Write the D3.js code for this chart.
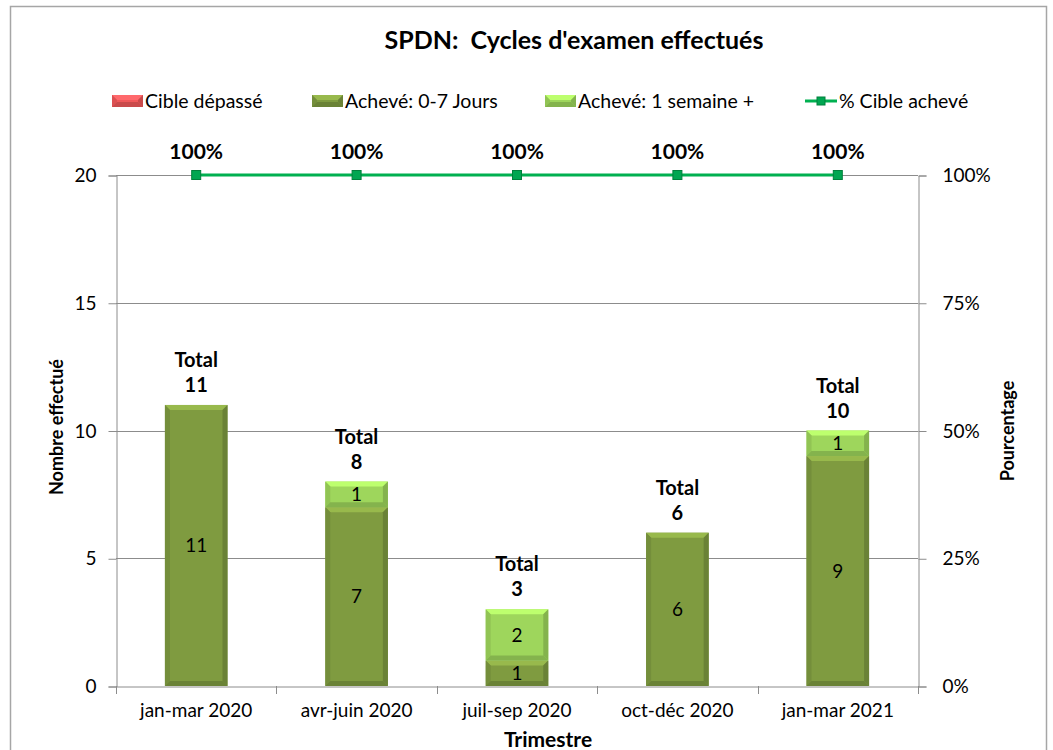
<!DOCTYPE html>
<html>
<head>
<meta charset="utf-8">
<script src="https://cdn.jsdelivr.net/npm/d3@7"></script>
<style>
body{margin:0;background:#fff;}
text{font-family:Lato,'Open Sans',sans-serif;}
</style>
</head>
<body>
<script>
// données du graphique
var categories=['jan-mar 2020','avr-juin 2020','juil-sep 2020','oct-déc 2020','jan-mar 2021'];
var cibleDepasse=[0,0,0,0,0];
var acheve07=[11,7,1,6,9];
var acheveSemaine=[0,1,2,0,1];
var pctAcheve=[1,1,1,1,1];
var leftTicks=[0,5,10,15,20];
var rightTicks=[0,0.25,0.5,0.75,1];

var W=1053,H=750;
var margin={left:116,right:135,top:175,bottom:64};
var fs=19; // taille du texte normal
var svg=d3.select('body').append('svg').attr('width',W).attr('height',H);

svg.append('rect')
    .attr('x',10.5).attr('y',6.5).attr('width',1036).attr('height',800)
    .attr('fill','#fff').attr('stroke','#a6a6a6').attr('stroke-width',1.5);

var x=d3.scaleBand().domain(categories).range([margin.left,W-margin.right]).paddingInner(0.61).paddingOuter(0.305);
var xTick=d3.scaleBand().domain(categories).range([margin.left,W-margin.right]);
var y=d3.scaleLinear().domain([0,20]).range([H-margin.bottom,margin.top]);
var y2=d3.scaleLinear().domain([0,1]).range([H-margin.bottom,margin.top]);

// grille
svg.append('g').selectAll('line').data(leftTicks.slice(1)).enter().append('line')
    .attr('x1',margin.left).attr('x2',W-margin.right)
    .attr('y1',function(d){return Math.round(y(d))+0.5;}).attr('y2',function(d){return Math.round(y(d))+0.5;})
    .attr('stroke','#8c8c8c').attr('stroke-width',1);

// axes
var axL=svg.append('g').attr('transform','translate('+(margin.left+0.5)+',0.5)')
    .call(d3.axisLeft(y).tickValues(leftTicks).tickSize(8).tickPadding(12));
var axR=svg.append('g').attr('transform','translate('+(W-margin.right+0.5)+',0.5)')
    .call(d3.axisRight(y2).tickValues(rightTicks).tickSize(8).tickPadding(16).tickFormat(d3.format('.0%')));
var axB=svg.append('g').attr('transform','translate(0,'+(H-margin.bottom+0.5)+')')
    .call(d3.axisBottom(xTick).tickSize(0).tickPadding(17));
// ticks entre catégories
svg.append('g').selectAll('line').data(d3.range(categories.length+1)).enter().append('line')
    .attr('x1',function(i){return Math.round(margin.left+i*xTick.step())+0.5;})
    .attr('x2',function(i){return Math.round(margin.left+i*xTick.step())+0.5;})
    .attr('y1',H-margin.bottom).attr('y2',H-margin.bottom+8)
    .attr('stroke','#8c8c8c');
[axL,axR,axB].forEach(function(a){
    a.selectAll('path,line').attr('stroke','#8c8c8c');
    a.selectAll('text').attr('font-size',fs).attr('fill','#000').attr('font-family','Lato,sans-serif');
});

// barres avec effet biseauté
function bevelBar(g,x0,y0,w,h,col){
    var b=Math.min(5,h/2);
    g.append('rect').attr('x',x0).attr('y',y0).attr('width',w).attr('height',h).attr('fill',col);
    var light=d3.color(col).brighter(0.5),dark=d3.color(col).darker(0.5),mid=d3.color(col).darker(0.25);
    g.append('polygon').attr('points',[[x0,y0],[x0+w,y0],[x0+w-b,y0+b],[x0+b,y0+b]].join(' ')).attr('fill',light);
    g.append('polygon').attr('points',[[x0,y0],[x0+b,y0+b],[x0+b,y0+h-b],[x0,y0+h]].join(' ')).attr('fill',mid);
    g.append('polygon').attr('points',[[x0+w,y0],[x0+w-b,y0+b],[x0+w-b,y0+h-b],[x0+w,y0+h]].join(' ')).attr('fill',dark);
    g.append('polygon').attr('points',[[x0,y0+h],[x0+b,y0+h-b],[x0+w-b,y0+h-b],[x0+w,y0+h]].join(' ')).attr('fill',dark);
}
var colDark='#7f9b40',colLight='#9ed65c',colRed='#f0585a';
var bars=svg.append('g');
categories.forEach(function(c,i){
    var x0=x(c),w=x.bandwidth();
    var base=0;
    [[cibleDepasse[i],colRed],[acheve07[i],colDark],[acheveSemaine[i],colLight]].forEach(function(s){
        if(s[0]<=0)return;
        var yt=y(base+s[0]),yb=y(base);
        bevelBar(bars,x0,yt,w,yb-yt,s[1]);
        bars.append('text').attr('x',x0+w/2).attr('y',(yt+yb)/2).attr('dy','0.35em')
            .attr('text-anchor','middle').attr('font-size',fs).text(s[0]);
        base+=s[0];
    });
    var top=y(base);
    bars.append('text').attr('x',x0+w/2).attr('y',top-45).attr('dy','0.35em')
        .attr('text-anchor','middle').attr('font-size',20).attr('font-weight','bold').text('Total');
    bars.append('text').attr('x',x0+w/2).attr('y',top-20).attr('dy','0.35em')
        .attr('text-anchor','middle').attr('font-size',20).attr('font-weight','bold').text(base);
});

// ligne % cible achevé
var line=d3.line().x(function(d,i){return x(categories[i])+x.bandwidth()/2;}).y(function(d){return y2(d);});
svg.append('path').datum(pctAcheve).attr('d',line).attr('fill','none').attr('stroke','#00b050').attr('stroke-width',3);
svg.append('g').selectAll('rect').data(pctAcheve).enter().append('rect')
    .attr('x',function(d,i){return x(categories[i])+x.bandwidth()/2-4.5;})
    .attr('y',function(d){return y2(d)-4.5;})
    .attr('width',9).attr('height',9).attr('fill','#00a651').attr('stroke','#00803c').attr('stroke-width',1);
svg.append('g').selectAll('text').data(pctAcheve).enter().append('text')
    .attr('x',function(d,i){return x(categories[i])+x.bandwidth()/2;})
    .attr('y',function(d){return y2(d)-23;}).attr('dy','0.35em')
    .attr('text-anchor','middle').attr('font-size',21).attr('font-weight','bold')
    .text(function(d){return d3.format('.0%')(d);});

// titres
svg.append('text').attr('x',574).attr('y',40).attr('dy','0.35em').attr('text-anchor','middle')
    .attr('font-size',25).attr('font-weight','bold').style('white-space','pre').text("SPDN:  Cycles d'examen effectués");
svg.append('text').attr('transform','translate(57,427) rotate(-90)')
    .attr('dy','0.35em').attr('text-anchor','middle').attr('font-size',18).attr('font-weight','bold').text('Nombre effectué');
svg.append('text').attr('transform','translate(1008,431) rotate(-90)')
    .attr('dy','0.35em').attr('text-anchor','middle').attr('font-size',18).attr('font-weight','bold').text('Pourcentage');
svg.append('text').attr('x',548).attr('y',740).attr('dy','0.35em').attr('text-anchor','middle')
    .attr('font-size',21).attr('font-weight','bold').text('Trimestre');

// légende
var legend=[
    {label:'Cible dépassé',col:colRed,x:112,type:'bar'},
    {label:'Achevé: 0-7 Jours',col:colDark,x:312,type:'bar'},
    {label:'Achevé: 1 semaine +',col:colLight,x:545,type:'bar'},
    {label:'% Cible achevé',col:'#00b050',x:805,type:'line'}
];
var lg=svg.append('g');
legend.forEach(function(l){
    if(l.type=='bar'){
        bevelBar(lg,l.x,95,31,12,l.col);
        lg.append('text').attr('x',l.x+33).attr('y',101).attr('dy','0.35em').attr('font-size',fs+0.5).text(l.label);
    }else{
        lg.append('line').attr('x1',l.x).attr('x2',l.x+32).attr('y1',101).attr('y2',101).attr('stroke',l.col).attr('stroke-width',3);
        lg.append('rect').attr('x',l.x+12).attr('y',97).attr('width',8).attr('height',8).attr('fill','#00a651').attr('stroke','#00803c');
        lg.append('text').attr('x',l.x+34).attr('y',101).attr('dy','0.35em').attr('font-size',fs+0.5).text(l.label);
    }
});
</script>
</body>
</html>
